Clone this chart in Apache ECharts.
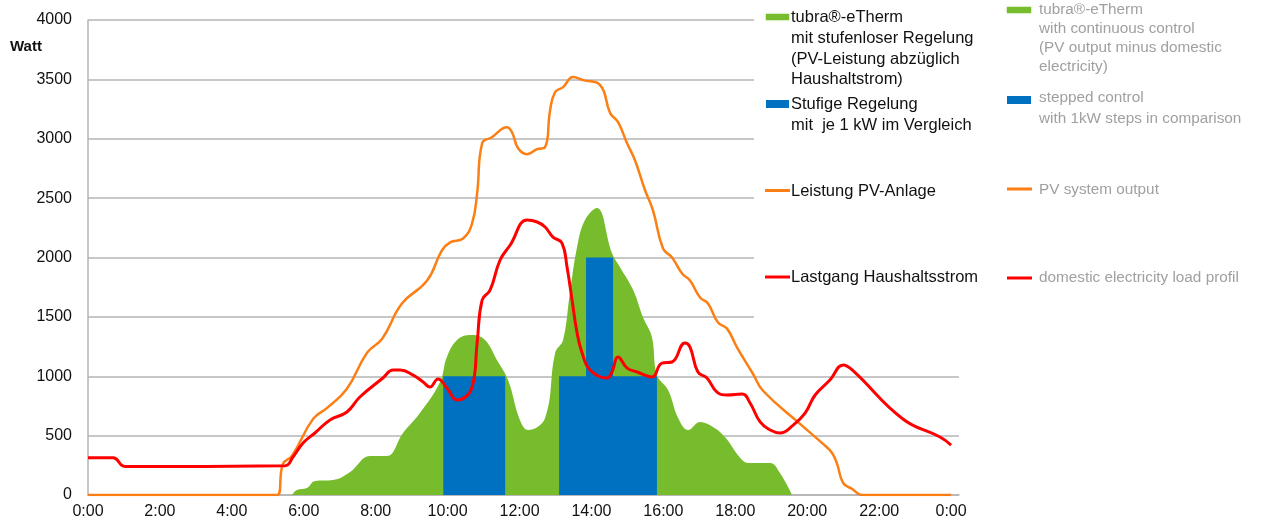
<!DOCTYPE html>
<html>
<head>
<meta charset="utf-8">
<script src="https://cdn.jsdelivr.net/npm/echarts@6/dist/echarts.min.js"></script>
<style>
html,body{margin:0;padding:0;background:#fff;}
#c{width:1288px;height:526px;}
</style>
</head>
<body>
<div id="c"></div>
<script>
// [hour, watt]
var pvOutput = [
  [0,0],[4.98,0],[5.26,0],[5.42,262],[5.67,329],[6.26,641],[6.65,734],[7.2,895],[7.76,1198],[8.18,1316],
  [8.73,1612],[9.43,1806],[9.84,2059],[10.07,2127],[10.43,2160],[10.68,2287],[10.82,2540],[10.96,2962],
  [11.23,3013],[11.65,3097],[11.79,3055],[11.96,2920],[12.21,2870],[12.49,2912],[12.71,2929],[12.85,3241],
  [12.99,3393],[13.21,3435],[13.49,3519],[13.77,3494],[14.24,3452],[14.52,3216],[14.74,3140],[14.99,2962],
  [15.21,2819],[15.49,2566],[15.71,2397],[15.99,2076],[16.24,2000],[16.52,1865],[16.74,1806],[17.02,1663],
  [17.24,1612],[17.52,1452],[17.77,1401],[18.05,1241],[18.49,1021],[18.77,878],[19.8,599],[20.44,430],
  [20.69,354],[20.83,262],[21.0,101],[21.25,51],[21.52,0],[24,0]
];
var householdLoad = [
  [0,314],[0.7,314],[1.03,240],[5.48,247],[5.7,320],[5.98,438],[6.31,522],[6.73,632],[7.2,699],[7.56,825],
  [8.2,985],[8.48,1053],[8.68,1053],[9.04,1010],[9.32,951],[9.51,909],[9.73,977],[9.98,901],[10.26,800],
  [10.68,909],[10.82,1280],[10.96,1642],[11.18,1726],[11.46,1979],[11.74,2105],[12.21,2316],[12.49,2299],
  [12.71,2257],[12.93,2172],[13.18,2122],[13.32,1920],[13.46,1642],[13.6,1364],[13.74,1196],[13.96,1053],
  [14.43,985],[14.57,1036],[14.74,1162],[14.99,1069],[15.27,1036],[15.68,994],[15.96,1111],[16.24,1120],
  [16.6,1280],[16.74,1246],[16.96,1036],[17.21,985],[17.49,867],[17.77,842],[18.19,850],[18.41,775],
  [18.69,615],[18.97,547],[19.24,522],[19.61,589],[19.94,690],[20.22,842],[20.63,968],[21.0,1095],
  [21.25,1053],[22.66,640],[23.69,488],[24,421]
];
var eThermContinuous = [
  [5.67,0],[5.81,42],[6.09,59],[6.31,118],[6.81,126],[7.29,194],[7.84,328],[8.31,328],[8.76,522],[9.23,690],
  [9.79,951],[9.98,1162],[10.3,1315],[10.71,1347],[11.04,1305],[11.37,1137],[11.68,968],[12.01,632],
  [12.24,547],[12.71,648],[12.99,1196],[13.21,1305],[13.4,1701],[13.6,2088],[13.82,2316],[14.15,2417],
  [14.57,2038],[14.79,1920],[15.16,1726],[15.43,1499],[15.68,1330],[15.82,1010],[16.13,884],[16.41,648],
  [16.69,547],[17.02,615],[17.38,573],[17.71,488],[18.19,295],[18.41,269],[18.97,269],[19.24,185],[19.58,0]
];
var steppedControl = [
  [9.88,1000],[11.6,0],[13.1,1000],[13.85,2000],[14.6,1000],[15.82,0]
];
var yTicks = [0,500,1000,1500,2000,2500,3000,3500,4000];
var xTickHours = [0,2,4,6,8,10,12,14,16,18,20,22,24];

var FONT = '"Liberation Sans", Arial, sans-serif';
var GREEN = '#77bc2c', BLUE = '#0070c0', ORANGE = '#fb7f14', RED = '#ff0000';

var chart = echarts.init(document.getElementById('c'), null, {renderer:'canvas'});

function legendText(x, y, t, color, size) {
  return {type:'text', z:100, style:{x:x, y:y, text:t, fill:color, font: size + 'px ' + FONT, verticalAlign:'middle', textAlign:'left'}};
}
var graphics = [
  {type:'rect', z:90, shape:{x:754, y:0, width:300, height:340}, style:{fill:'#fff'}},
  {type:'text', z:100, style:{x:10, y:47, text:'Watt', fill:'#111', font:'bold 15px ' + FONT, verticalAlign:'middle'}},
  // left legend
  {type:'rect', z:100, shape:{x:766, y:14, width:23, height:6}, style:{fill:GREEN, shadowBlur:2, shadowColor:GREEN}},
  legendText(791, 17, 'tubra®-eTherm', '#111', 16.5),
  legendText(791, 38, 'mit stufenloser Regelung', '#111', 16.5),
  legendText(791, 59, '(PV-Leistung abzüglich', '#111', 16.5),
  legendText(791, 79, 'Haushaltstrom)', '#111', 16.5),
  {type:'rect', z:100, shape:{x:766, y:100, width:23, height:8}, style:{fill:BLUE}},
  legendText(791, 104, 'Stufige Regelung', '#111', 16.5),
  legendText(791, 125, 'mit  je 1 kW im Vergleich', '#111', 16.5),
  {type:'rect', z:100, shape:{x:765, y:189, width:25, height:3}, style:{fill:ORANGE}},
  legendText(791, 191, 'Leistung PV-Anlage', '#111', 16.5),
  {type:'rect', z:100, shape:{x:765, y:275.5, width:25, height:3}, style:{fill:RED}},
  legendText(791, 277, 'Lastgang Haushaltsstrom', '#111', 16.5),
  // right legend
  {type:'rect', z:100, shape:{x:1007, y:7, width:24, height:6}, style:{fill:GREEN, shadowBlur:2, shadowColor:GREEN}},
  legendText(1039, 10, 'tubra®-eTherm', '#a0a0a0', 15.3),
  legendText(1039, 29, 'with continuous control', '#a0a0a0', 15.3),
  legendText(1039, 48, '(PV output minus domestic', '#a0a0a0', 15.3),
  legendText(1039, 67, 'electricity)', '#a0a0a0', 15.3),
  {type:'rect', z:100, shape:{x:1007, y:96, width:24, height:8}, style:{fill:BLUE}},
  legendText(1039, 98, 'stepped control', '#a0a0a0', 15.3),
  legendText(1039, 119, 'with 1kW steps in comparison', '#a0a0a0', 15.3),
  {type:'rect', z:100, shape:{x:1007, y:187.5, width:25, height:3}, style:{fill:ORANGE}},
  legendText(1039, 190, 'PV system output', '#a0a0a0', 15.3),
  {type:'rect', z:100, shape:{x:1007, y:276.5, width:25, height:3}, style:{fill:RED}},
  legendText(1039, 278, 'domestic electricity load profil', '#a0a0a0', 15.3)
];

var option = {
  animation:false,
  backgroundColor:'#fff',
  grid:{left:88, top:20, right:1288-959, bottom:31, containLabel:false},
  xAxis:{
    type:'value', min:0, max:24.22, interval:2,
    axisLine:{show:true, lineStyle:{color:'#b4b4b4', width:1.5}},
    axisTick:{show:false},
    splitLine:{show:false},
    axisLabel:{
      margin:9, color:'#111', fontSize:16, fontFamily:FONT,
      customValues: xTickHours,
      formatter:function(v){ return (Math.round(v) % 24) + ':00'; }
    }
  },
  yAxis:{
    type:'value', min:yTicks[0], max:yTicks[yTicks.length-1], interval:500,
    axisLine:{show:true, lineStyle:{color:'#b4b4b4', width:1.5}},
    axisTick:{show:false},
    splitLine:{show:true, lineStyle:{color:'#b4b4b4', width:1.5}},
    axisLabel:{margin:16, color:'#111', fontSize:16, fontFamily:FONT,
      formatter:function(v){ return String(v); }}
  },
  graphic:graphics,
  series:[
    {type:'line', name:'eTherm', data:eThermContinuous, smooth:0.4, showSymbol:false,
     lineStyle:{width:0}, areaStyle:{color:GREEN, opacity:1}, z:2},
    {type:'line', name:'stepped', data:steppedControl, step:'end', showSymbol:false,
     lineStyle:{width:0}, areaStyle:{color:BLUE, opacity:1}, z:3},
    {type:'line', name:'PV', data:pvOutput, smooth:0.45, showSymbol:false,
     lineStyle:{color:ORANGE, width:2.5}, z:4},
    {type:'line', name:'load', data:householdLoad, smooth:0.45, showSymbol:false,
     lineStyle:{color:RED, width:3}, z:5}
  ]
};
chart.setOption(option);
</script>
</body>
</html>
